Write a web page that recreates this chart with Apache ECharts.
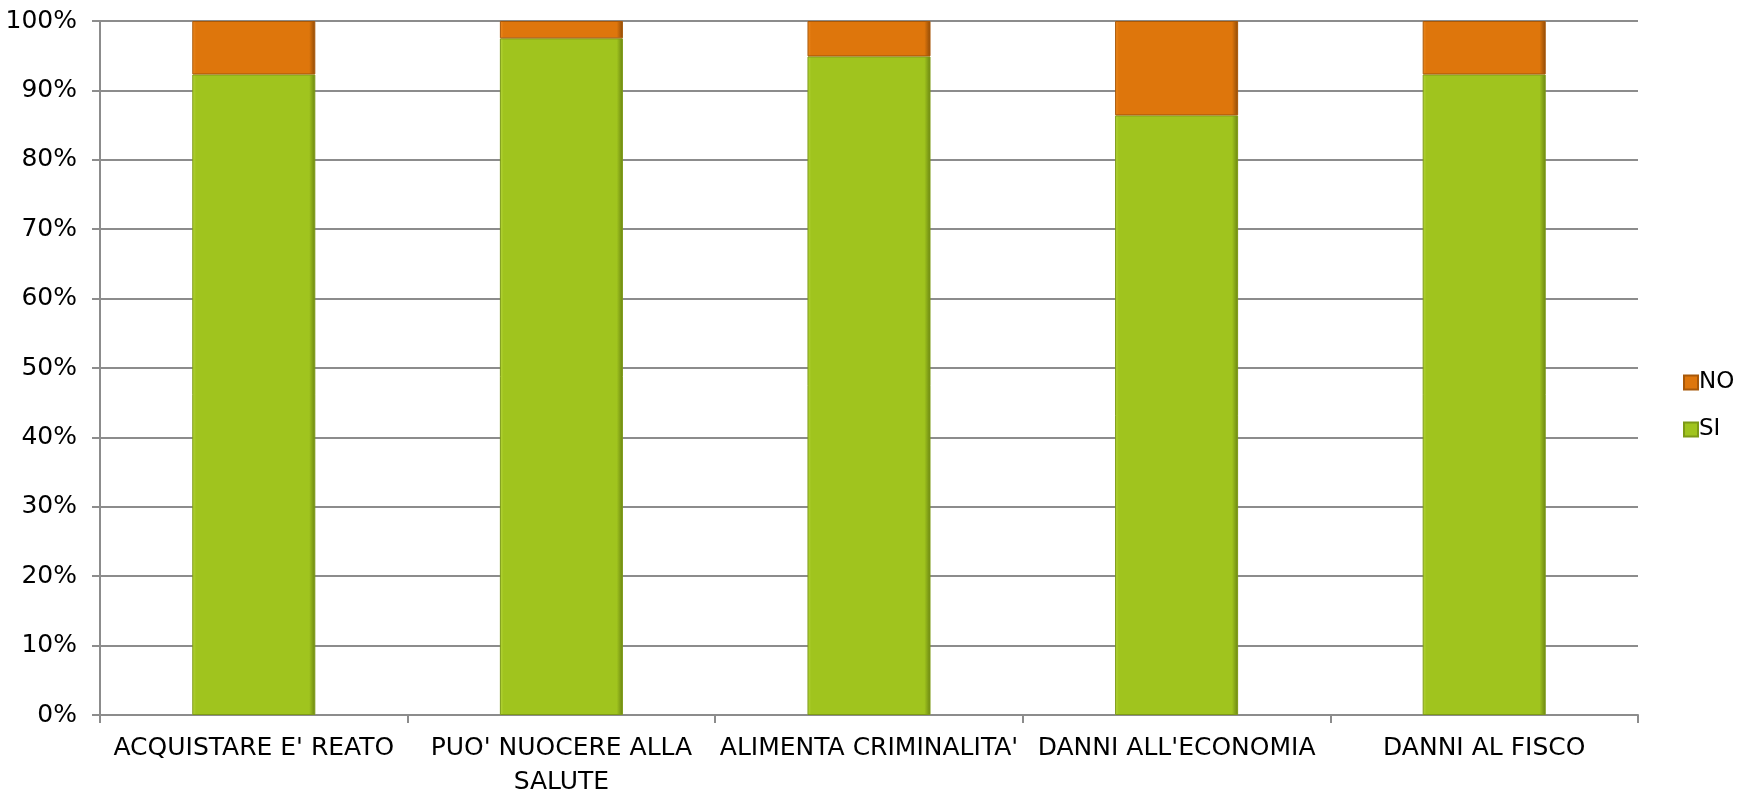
<!DOCTYPE html>
<html><head><meta charset="utf-8">
<script src="https://cdn.jsdelivr.net/npm/echarts@6/dist/echarts.min.js"></script>
<style>html,body{margin:0;padding:0;background:#fff}#c{width:1762px;height:799px}</style>
</head><body><div id="c"></div>
<script>
const categories = ["ACQUISTARE E' REATO", "PUO' NUOCERE ALLA\nSALUTE", "ALIMENTA CRIMINALITA'", "DANNI ALL'ECONOMIA", "DANNI AL FISCO"];
const siValues = [92.3, 97.5, 94.9, 86.4, 92.3];
const noValues = [7.7, 2.5, 5.1, 13.6, 7.7];
const yTicks = [0, 10, 20, 30, 40, 50, 60, 70, 80, 90, 100];

const FONT = 'DejaVu Sans';
function grad(light, mid, dark) {
  return new echarts.graphic.LinearGradient(0, 0, 1, 0, [
    {offset: 0, color: light}, {offset: 0.03, color: mid},
    {offset: 0.95, color: mid}, {offset: 1, color: dark}
  ]);
}
const chart = echarts.init(document.getElementById('c'));
chart.setOption({
  animation: false,
  textStyle: {fontFamily: FONT},
  grid: {left: 100, right: 124, top: 21, bottom: 80},
  legend: {
    orient: 'vertical', left: 1678, top: 366, itemWidth: 14, itemHeight: 14, itemGap: 24,
    data: ['NO', 'SI'], icon: 'rect',
    textStyle: {fontFamily: FONT, fontSize: 23, color: '#000', padding: [0, 0, 0, -4]}
  },
  xAxis: {
    type: 'category', data: categories,
    axisLine: {lineStyle: {color: '#8c8c8c', width: 2}},
    axisTick: {show: true, length: 8, lineStyle: {color: '#8c8c8c', width: 2}},
    axisLabel: {fontFamily: FONT, fontSize: 25, color: '#000', margin: 16, lineHeight: 34, interval: 0}
  },
  yAxis: {
    type: 'value', min: 0, max: 100, interval: 10,
    axisLine: {show: true, lineStyle: {color: '#8c8c8c', width: 2}},
    axisTick: {show: true, length: 8, lineStyle: {color: '#8c8c8c', width: 2}},
    splitLine: {lineStyle: {color: '#8c8c8c', width: 2}},
    axisLabel: {fontFamily: FONT, fontSize: 25, color: '#000', margin: 23,
      formatter: v => yTicks.includes(v) ? v + '%' : ''}
  },
  series: [
    {name: 'SI', type: 'bar', stack: 't', data: siValues, barWidth: '40%',
     itemStyle: {color: grad('#b5d63a', '#a0c41e', '#6a8412'), borderColor: '#7d9a16', borderWidth: 1}},
    {name: 'NO', type: 'bar', stack: 't', data: noValues, barWidth: '40%',
     itemStyle: {color: grad('#f08a20', '#de760c', '#8e4a08'), borderColor: '#a85808', borderWidth: 1}}
  ]
});
</script></body></html>
